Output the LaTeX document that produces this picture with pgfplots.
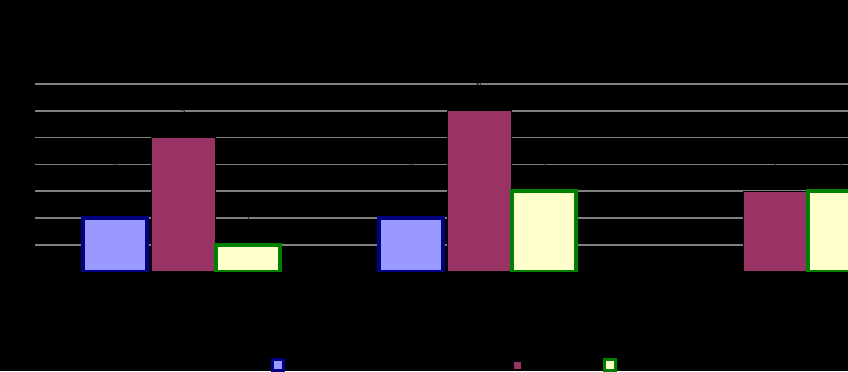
\documentclass[border=0pt]{standalone}
\usepackage{pgfplots}
\pgfplotsset{compat=1.18}
\definecolor{bluefill}{HTML}{9999FF}
\definecolor{navyb}{HTML}{000080}
\definecolor{plum}{HTML}{993366}
\definecolor{ivory}{HTML}{FFFFCC}
\definecolor{dgreen}{HTML}{008000}
\definecolor{gridg}{HTML}{808080}
\begin{document}
\begin{tikzpicture}
\fill[black] (0,0) rectangle (636pt,278.25pt);
\begin{scope}
\clip (0,0) rectangle (636pt,278.25pt);
\begin{axis}[
  at={(26.25pt,74.6pt)}, anchor=south west,
  scale only axis, width=666pt, height=140.6pt,
  xmin=-0.5, xmax=2.5, ymin=0, ymax=7,
  ybar,
  ytick={1,2,3,4,5,6,7},
  xtick={0,1,2}, xticklabels={Category 1,Category 2,Category 3},
  ticklabel style={black},
  ymajorgrids, grid style={gridg, line width=1.2pt},
  axis line style={draw=none}, tick style={draw=none},
  legend columns=3,
  legend style={draw=none, fill=none, at={(0.2613,-0.50)}, anchor=west,
    column sep=0pt, nodes={inner sep=0pt, text=black}},
]
\addplot[ybar, bar width=48pt, bar shift=-51pt, fill=bluefill, draw=navyb, line width=3pt,
  nodes near coords, nodes near coords style={black, font=\scriptsize, anchor=center, yshift=38pt},
  legend image code/.code={\draw[fill=bluefill, draw=navyb, line width=2.25pt] (0pt,-4.125pt) rectangle (8.25pt,4.125pt);}]
  coordinates {(0,2) (1,2)};
\addlegendentry{\makebox[171pt][l]{Series 1}}
\addplot[ybar, bar width=48pt, bar shift=0pt, fill=plum, draw=black, line width=0.75pt,
  nodes near coords, nodes near coords style={black, font=\scriptsize, anchor=center, yshift=19.5pt},
  legend image code/.code={\draw[fill=plum, draw=black, line width=0.75pt] (0pt,-3pt) rectangle (6pt,3pt);}]
  coordinates {(0,5) (1,6) (2,3)};
\addlegendentry{\makebox[60.8pt][l]{Series 2}}
\addplot[ybar, bar width=48pt, bar shift=49.1pt, fill=ivory, draw=dgreen, line width=3pt,
  nodes near coords, nodes near coords style={black, font=\scriptsize, anchor=center, yshift=19.5pt},
  legend image code/.code={\draw[fill=ivory, draw=dgreen, line width=2.25pt] (0pt,-4.125pt) rectangle (8.25pt,4.125pt);}]
  coordinates {(0,1) (1,3) (2,3)};
\addlegendentry{Series 3}
\end{axis}
\end{scope}
\pgfresetboundingbox
\path[use as bounding box] (0,0) rectangle (636pt,278.25pt);
\end{tikzpicture}
\end{document}
